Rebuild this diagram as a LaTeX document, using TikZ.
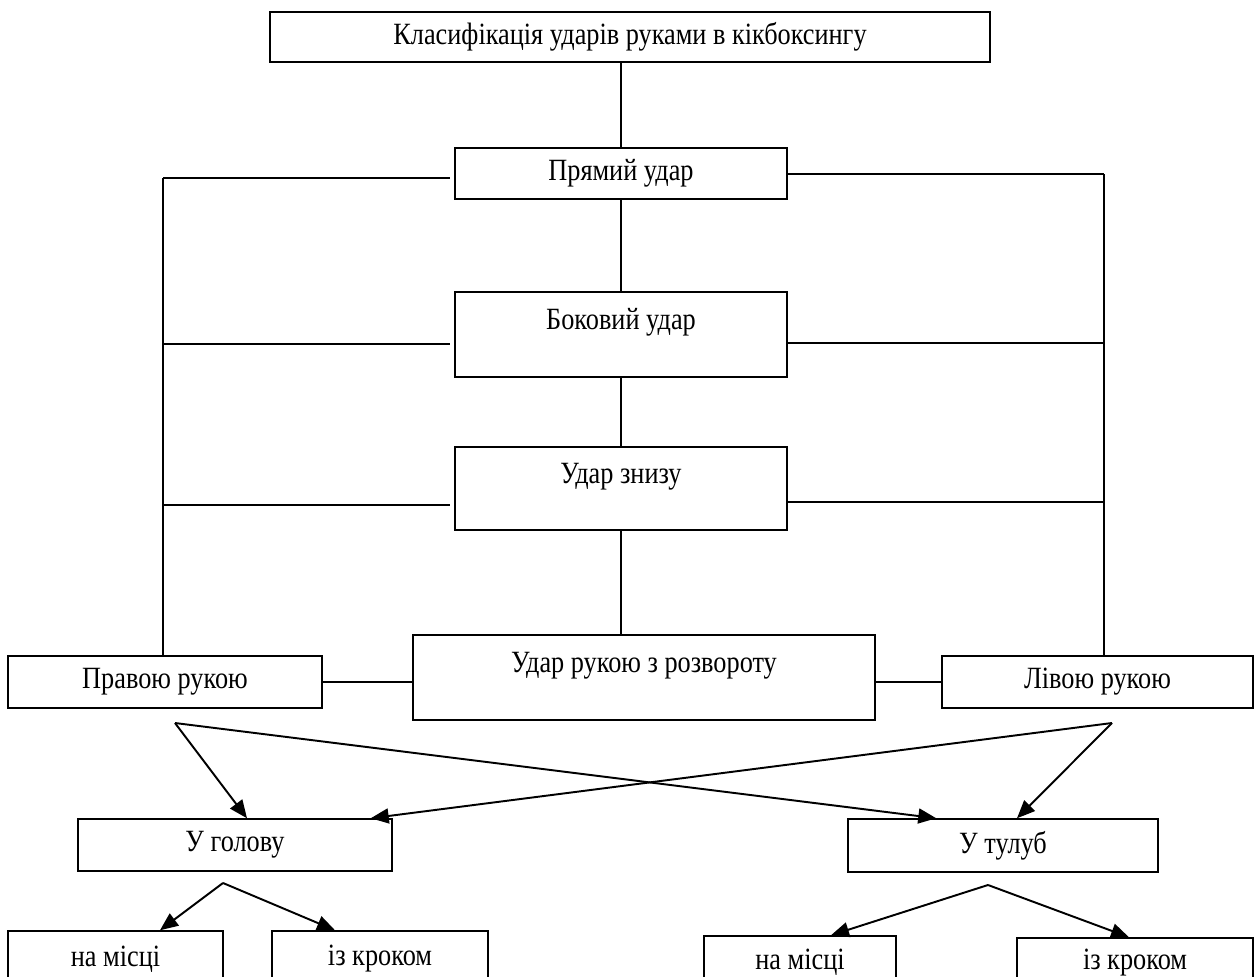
\documentclass[tikz,border=0pt]{standalone}
\usepackage{fontspec}
\setmainfont{Liberation Serif}[FakeStretch=0.85]
\usetikzlibrary{arrows.meta}
\usetikzlibrary{positioning}

\begin{document}
\begin{tikzpicture}[
    x=0.02cm, y=-0.02cm,
    line width=0.85pt,
    font=\fontsize{17.6}{21}\selectfont
]
\tikzset{
    box/.style = {rectangle, draw=black, align=center, inner sep=2pt},
    tallbox/.style = {box, text height=1.6ex, text depth=4.5mm},
    edgen/.style = {line width=0.85pt},
    edgeg/.style = {line width=0.85pt, shorten >=0.8mm},
    edgea/.style = {-{Triangle[length=3.6mm,width=3mm]}, line width=1.1pt}
}
\useasboundingbox (0,0) rectangle (1255,977);
% boxes
\node[box, minimum width=14.4cm, minimum height=1.0cm]  at (630,37)    (top) {Класифікація ударів руками в кікбоксингу};
\node[box, minimum width=6.64cm, minimum height=1.02cm] at (621,173.5) (pryamyi) {Прямий удар};
\node[tallbox, minimum width=6.64cm, minimum height=1.7cm]  at (621,334.5) (bokovyi) {Боковий удар};
\node[tallbox, minimum width=6.64cm, minimum height=1.66cm] at (621,488.5) (znyzu) {Удар знизу};
\node[box, minimum width=6.28cm, minimum height=1.04cm] at (165,682)   (pravoyu) {Правою рукою};
\node[tallbox, minimum width=9.24cm, minimum height=1.7cm]  at (644,677.5) (rozvorot) {Удар рукою з розвороту};
\node[box, minimum width=6.22cm, minimum height=1.04cm] at (1097.5,682) (livoyu) {Лівою рукою};
\node[box, minimum width=6.28cm, minimum height=1.04cm] at (235,845)   (golova) {У голову};
\node[box, minimum width=6.2cm, minimum height=1.06cm]  at (1003,845.5) (tulub) {У тулуб};
\node[box, minimum width=4.3cm, minimum height=1.12cm]  at (115.5,959)  (misce1) {на місці};
\node[box, minimum width=4.32cm, minimum height=1.12cm] at (380,959)    (krok1) {із кроком};
\node[box, minimum width=3.84cm, minimum height=1.04cm] at (800,962)    (misce2) {на місці};
\node[box, minimum width=4.72cm, minimum height=1.0cm]  at (1135,963)   (krok2) {із кроком};
% central column
\draw[edgen] (pryamyi.north) -- (pryamyi.north |- top.south);
\draw[edgen] (pryamyi.south) -- (bokovyi.north);
\draw[edgen] (bokovyi.south) -- (znyzu.north);
\draw[edgen] (znyzu.south) -- (znyzu.south |- rozvorot.north);
\draw[edgen] (pravoyu.east) -- (rozvorot.west |- pravoyu.east);
\draw[edgen] (livoyu.west) -- (rozvorot.east |- livoyu.west);
% left and right branches
\coordinate (l1) at (163,178);
\coordinate (l2) at (163,344);
\coordinate (l3) at (163,505);
\coordinate (r1) at (1104,174);
\coordinate (r2) at (1104,343);
\coordinate (r3) at (1104,502);
\draw[edgen] (l1) -- (l1 |- pravoyu.north);
\draw[edgen] (r1) -- (r1 |- livoyu.north);
\draw[edgeg] (l1) -- (l1 -| pryamyi.west);
\draw[edgeg] (l2) -- (l2 -| bokovyi.west);
\draw[edgeg] (l3) -- (l3 -| znyzu.west);
\draw[edgen] (r1) -- (r1 -| pryamyi.east);
\draw[edgen] (r2) -- (r2 -| bokovyi.east);
\draw[edgen] (r3) -- (r3 -| znyzu.east);
% arrows
\coordinate (apexL) at (175,723);
\coordinate (apexR) at (1112,723);
\coordinate (apexG) at (223,883);
\coordinate (apexT) at (988,885);
\draw[edgea] (apexL) -- ([xshift=0.24cm]golova.north);
\draw[edgea] (apexL) -- ([xshift=1.78cm]tulub.north west);
\draw[edgea] (apexR) -- ([xshift=0.28cm]tulub.north);
\draw[edgea] (apexR) -- ([xshift=-0.44cm]golova.north east);
\draw[edgea] (apexG) -- ([xshift=0.89cm]misce1.north);
\draw[edgea] (apexG) -- ([xshift=-0.9cm]krok1.north);
\draw[edgea] (apexT) -- ([xshift=0.62cm]misce2.north);
\draw[edgea] (apexT) -- ([xshift=-0.12cm]krok2.north);
\end{tikzpicture}
\end{document}
